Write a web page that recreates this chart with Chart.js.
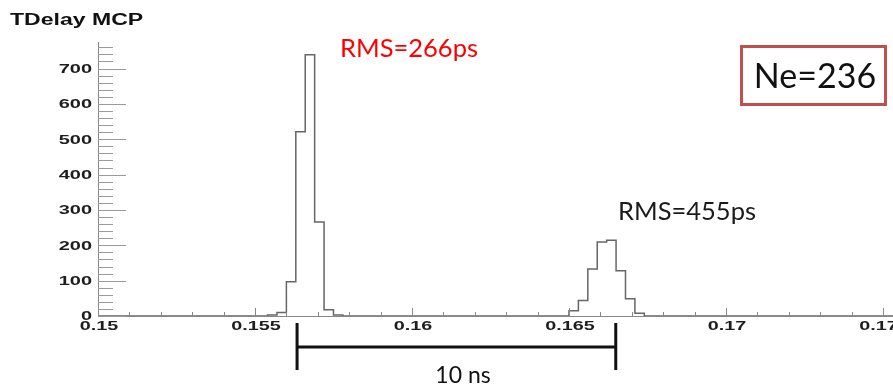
<!DOCTYPE html>
<html>
<head>
<meta charset="utf-8">
<script src="https://cdn.jsdelivr.net/npm/chart.js@4"></script>
<style>
html, body { margin: 0; padding: 0; background: #fff; overflow: hidden; }
#wrap { position: relative; width: 893px; height: 388px; }
</style>
</head>
<body>
<div id="wrap"><canvas id="tdelay"></canvas></div>
<script>
// histogram binning
var binStart = 0.15;
var binWidth = 0.0003;
var nBins = 100;

// filled bins of the two peaks: index of first bin + counts
var peak1First = 18;
var peak1Counts = [3, 10, 97, 521, 739, 266, 18, 3];
var peak2First = 50;
var peak2Counts = [15, 44, 133, 209, 214, 128, 49, 8];

var xTicks = [0.15, 0.155, 0.16, 0.165, 0.17, 0.175];
var xTickLabels = ['0.15', '0.155', '0.16', '0.165', '0.17', '0.175'];
var yTicks = [0, 100, 200, 300, 400, 500, 600, 700];
var yTickLabels = ['0', '100', '200', '300', '400', '500', '600', '700'];

var histTitle = 'TDelay MCP';
var rmsPeak1 = 'RMS=266ps';
var rmsPeak2 = 'RMS=455ps';
var neLabel = 'Ne=236';
var gapLabel = '10 ns';
var gapFrom = 0.15634;
var gapTo = 0.16649;

var counts = [];
for (var k = 0; k < nBins; k++) counts.push(0);
peak1Counts.forEach(function (c, i) { counts[peak1First + i] = c; });
peak2Counts.forEach(function (c, i) { counts[peak2First + i] = c; });

var points = counts.map(function (c, i) {
  return { x: binStart + i * binWidth, y: c };
});
points.push({ x: binStart + nBins * binWidth, y: 0 });

// ROOT draws its labels wide, so stretch them horizontally
function wideText(ctx, txt, x, y, sx, align) {
  ctx.save();
  ctx.translate(x, y);
  ctx.scale(sx, 1);
  ctx.textAlign = align;
  ctx.fillText(txt, 0, 0);
  ctx.restore();
}

const rootAxes = {
  id: 'rootAxes',
  afterDraw: function (chart) {
    var ctx = chart.ctx;
    var xs = chart.scales.x, ys = chart.scales.y;
    var area = chart.chartArea;
    ctx.save();

    // inward ticks on x
    ctx.strokeStyle = '#888';
    ctx.lineWidth = 1;
    for (var v = 0.15; v < 0.1754; v += 0.001) {
      var px = Math.round(xs.getPixelForValue(v)) + 0.5;
      var major = Math.abs(v * 200 - Math.round(v * 200)) < 1e-6;
      ctx.beginPath();
      ctx.moveTo(px, area.bottom);
      ctx.lineTo(px, area.bottom - (major ? 8 : 4));
      ctx.stroke();
    }
    // inward ticks on y
    ctx.strokeStyle = '#9a9a9a';
    for (var t = 0; t <= 760; t += 20) {
      var py = Math.round(ys.getPixelForValue(t)) + 0.5;
      ctx.beginPath();
      ctx.moveTo(area.left, py);
      ctx.lineTo(area.left + (t % 100 === 0 ? 28 : 15), py);
      ctx.stroke();
    }

    // tick labels
    ctx.fillStyle = '#1e1e1e';
    ctx.textBaseline = 'middle';
    ctx.font = 'bold 12.5px "Liberation Sans", Arial, sans-serif';
    yTicks.forEach(function (t, i) {
      wideText(ctx, yTickLabels[i], area.left - 6, ys.getPixelForValue(t) + 1, 1.6, 'right');
    });
    ctx.textBaseline = 'alphabetic';
    ctx.font = 'bold 12px "Liberation Sans", Arial, sans-serif';
    xTicks.forEach(function (t, i) {
      wideText(ctx, xTickLabels[i], xs.getPixelForValue(t) + 1, 330, 1.65, 'center');
    });

    // histogram title
    ctx.fillStyle = '#111';
    ctx.font = 'bold 16px "Liberation Sans", Arial, sans-serif';
    wideText(ctx, histTitle, 10, 25, 1.44, 'left');

    // peak widths
    ctx.font = '25.5px Lato, "Open Sans", sans-serif';
    ctx.textAlign = 'left';
    ctx.fillStyle = '#ff0000';
    ctx.fillText(rmsPeak1, 340, 57);
    ctx.fillStyle = '#1a1a1a';
    ctx.fillText(rmsPeak2, 618, 220);

    // electron count box
    ctx.strokeStyle = '#c0504d';
    ctx.lineWidth = 3;
    ctx.strokeRect(741.5, 46.5, 144, 58);
    ctx.fillStyle = '#111';
    ctx.font = '34px Lato, "Open Sans", sans-serif';
    ctx.textAlign = 'center';
    ctx.fillText(neLabel, 815, 88);

    // separation between the two peaks
    var x1 = xs.getPixelForValue(gapFrom), x2 = xs.getPixelForValue(gapTo);
    ctx.strokeStyle = '#111';
    ctx.lineWidth = 3;
    ctx.beginPath();
    ctx.moveTo(x1, 347); ctx.lineTo(x2, 347);
    ctx.moveTo(x1, 323); ctx.lineTo(x1, 370);
    ctx.moveTo(x2, 323); ctx.lineTo(x2, 370);
    ctx.stroke();
    ctx.font = '23px Lato, "Open Sans", sans-serif';
    ctx.fillText(gapLabel, 463, 383);

    ctx.restore();
  }
};

new Chart(document.getElementById('tdelay'), {
  type: 'line',
  data: {
    datasets: [{
      data: points,
      stepped: 'before',
      borderColor: '#666',
      borderWidth: 1.5,
      pointRadius: 0,
      fill: false
    }]
  },
  options: {
    responsive: true,
    maintainAspectRatio: false,
    animation: false,
    layout: { padding: { top: 42, left: 0, right: 0, bottom: 0 } },
    plugins: {
      legend: { display: false },
      tooltip: { enabled: false }
    },
    scales: {
      x: {
        type: 'linear',
        min: 0.15,
        max: 0.17532,
        grid: { display: false },
        border: { display: true, color: '#888', width: 1 },
        ticks: { display: false },
        afterFit: function (s) { s.height = 72; }
      },
      y: {
        min: 0,
        max: 775,
        grid: { display: false },
        border: { display: true, color: '#888', width: 1 },
        ticks: { display: false },
        afterFit: function (s) { s.width = 98; }
      }
    }
  },
  plugins: [rootAxes]
});
</script>
</body>
</html>
